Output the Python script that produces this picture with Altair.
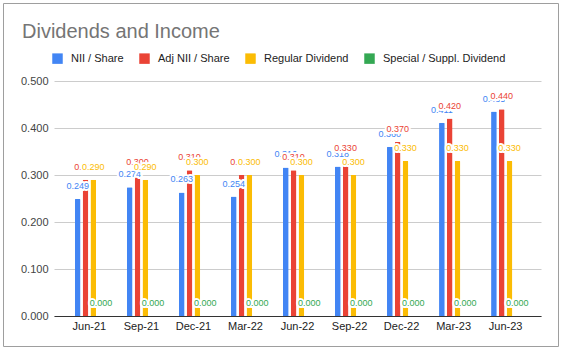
import altair as alt
import pandas as pd

title_text = "Dividends and Income"
periods = ["Jun-21", "Sep-21", "Dec-21", "Mar-22", "Jun-22", "Sep-22", "Dec-22", "Mar-23", "Jun-23"]
series = ["NII / Share", "Adj NII / Share", "Regular Dividend", "Special / Suppl. Dividend"]
colors = ["#4285F4", "#EA4335", "#FBBC04", "#34A853"]
nii = [0.249, 0.274, 0.263, 0.254, 0.316, 0.318, 0.360, 0.411, 0.435]
adj_nii = [0.290, 0.300, 0.310, 0.300, 0.310, 0.330, 0.370, 0.420, 0.440]
regular = [0.290, 0.290, 0.300, 0.300, 0.300, 0.300, 0.330, 0.330, 0.330]
special = [0.000, 0.000, 0.000, 0.000, 0.000, 0.000, 0.000, 0.000, 0.000]
y_ticks = [0.0, 0.1, 0.2, 0.3, 0.4, 0.5]

rows = []
for s, vals in zip(series, [nii, adj_nii, regular, special]):
    for p, v in zip(periods, vals):
        rows.append({"period": p, "series": s, "value": v})
df = pd.DataFrame(rows)

FONT = "Arial"
PLOT_L, PLOT_T, PLOT_W, PLOT_H = 54, 81, 487, 235

x_enc = alt.X(
    "period:N", sort=periods, title=None,
    scale=alt.Scale(domain=periods, paddingInner=0.4, paddingOuter=0.38),
    axis=alt.Axis(labelAngle=0, ticks=False, labelPadding=4, labelFontSize=11, labelFont=FONT,
                  labelColor="#222222", domainColor="#333333", domainWidth=1.2, grid=False),
)
xo_enc = alt.XOffset(
    "series:N", sort=series,
    scale=alt.Scale(domain=series, paddingInner=0.27, paddingOuter=0.135),
)
y_enc = alt.Y(
    "value:Q", title=None,
    scale=alt.Scale(domain=[0, 0.5], nice=False),
    axis=alt.Axis(values=y_ticks, format=".3f", ticks=False, domain=False, labelPadding=6,
                  labelFontSize=11, labelFont=FONT, labelColor="#444444",
                  gridColor="#cccccc", gridWidth=1),
)

base = alt.Chart(df)

bars = base.mark_bar(cornerRadiusTopLeft=1, cornerRadiusTopRight=1).encode(
    x=x_enc, xOffset=xo_enc, y=y_enc,
    color=alt.Color(
        "series:N", sort=series,
        scale=alt.Scale(domain=series, range=colors),
        legend=alt.Legend(title=None, orient="none", direction="horizontal",
                          legendX=-2, legendY=-28, symbolType="square", symbolSize=110,
                          symbolStrokeWidth=0, labelFontSize=11, labelFont=FONT,
                          labelColor="#222222", columnPadding=15, labelOffset=8),
    ),
)

layers = [bars]
for s, c in zip(series, colors):
    sub = base.transform_filter(alt.datum.series == s)
    halo = sub.mark_text(dy=-10, fontSize=9, font=FONT, baseline="alphabetic",
                         fill="white", stroke="white", strokeWidth=4, strokeJoin="round").encode(
        x=x_enc, xOffset=xo_enc, y=y_enc, text=alt.Text("value:Q", format=".3f"))
    lab = sub.mark_text(dy=-10, fontSize=9, font=FONT, baseline="alphabetic", color=c).encode(
        x=x_enc, xOffset=xo_enc, y=y_enc, text=alt.Text("value:Q", format=".3f"))
    layers += [halo, lab]

title = alt.Chart(pd.DataFrame({"t": [title_text]})).mark_text(
    align="left", baseline="alphabetic", fontSize=20, font=FONT, color="#757575").encode(
    text="t:N", x=alt.value(22 - PLOT_L), y=alt.value(37.7 - PLOT_T))

border = alt.Chart(pd.DataFrame({"a": [0]})).mark_rect(
    filled=False, stroke="#9e9e9e", strokeWidth=1).encode(
    x=alt.value(3.5 - PLOT_L), x2=alt.value(558.5 - PLOT_L),
    y=alt.value(3.5 - PLOT_T), y2=alt.value(346.5 - PLOT_T))

chart = alt.layer(border, title, *layers).properties(
    width=PLOT_W, height=PLOT_H,
    autosize=alt.AutoSizeParams(type="none"),
    padding={"left": PLOT_L, "top": PLOT_T, "right": 562 - PLOT_L - PLOT_W, "bottom": 350 - PLOT_T - PLOT_H},
    background="white",
).configure_view(stroke=None)

chart.save("out.html", embed_options={"renderer": "svg", "actions": False})
